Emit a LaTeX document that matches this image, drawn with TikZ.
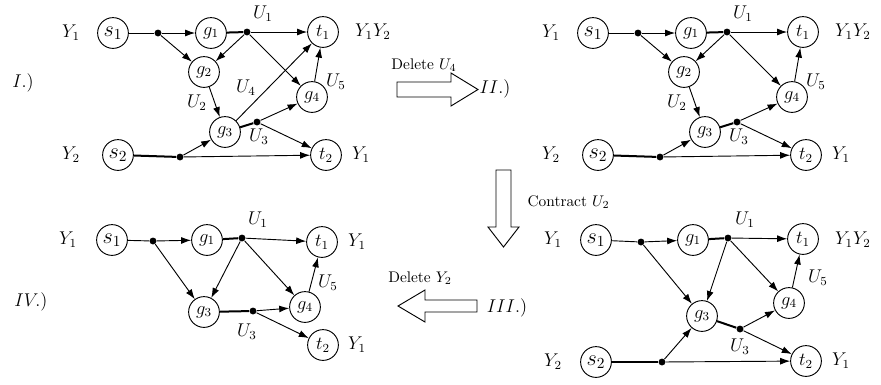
\documentclass[tikz,border=0pt]{standalone}
\usetikzlibrary{arrows.meta}
\begin{document}
\begin{tikzpicture}[x=0.65pt, y=-0.65pt, line width=0.6pt, font=\large, >={Latex[length=6.5pt,width=4.5pt]},
        main/.style = {draw, circle, minimum size=20pt, inner sep=0pt},
        dot/.style = {circle, fill, inner sep=0pt, minimum size=4.5pt},
        heavy/.style = {line width=1.3pt},
        step text/.style = {font=\normalsize},
        bigarrow/.style = {draw, fill=white, line width=0.6pt}]
    \useasboundingbox (0,0) rectangle (881,384);

    % I.)
    \node (num1) at (23,83) {$I.)$};
    \node[main] (s1a) at (113,33) {\Large $s_1$};
    \node[main] (g1a) at (211,33) {$g_1$};
    \node[main] (t1a) at (323,32) {$t_1$};
    \node[main] (g2a) at (204,72) {$g_2$};
    \node[main] (g4a) at (312,97) {$g_4$};
    \node[main] (g3a) at (225,132) {$g_3$};
    \node[main] (s2a) at (118,155) {\Large $s_2$};
    \node[main] (t2a) at (326,155) {$t_2$};
    \node[dot] (h1a) at (158,33) {};
    \node[dot] (u1a) at (247,32) {};
    \node[dot] (u3a) at (257,122) {};
    \node[dot] (h2a) at (180,157) {};
    \node (ys1a) at (71,33) {$Y_1$};
    \node (yt1a) at (373,32) {$Y_1Y_2$};
    \node (ys2a) at (71,155) {$Y_2$};
    \node (yt2a) at (361,155) {$Y_1$};
    \node (lu1a) at (263,14) {$U_1$};
    \node (lu2a) at (197,103) {$U_2$};
    \node (lu3a) at (259,137) {$U_3$};
    \node (lu4a) at (246,88) {$U_4$};
    \node (lu5a) at (336,82) {$U_5$};
    \draw (s1a) -- (h1a);
    \draw[->] (h1a) -- (g1a);
    \draw[->] (h1a) -- (g2a);
    \draw[heavy] (g1a) -- (u1a);
    \draw[->] (u1a) -- (t1a);
    \draw[->] (u1a) -- (g2a);
    \draw[->] (u1a) -- (g4a);
    \draw[->] (g2a) -- (g3a);
    \draw[->] (g3a) -- (t1a);
    \draw[heavy] (g3a) -- (u3a);
    \draw[->] (u3a) -- (g4a);
    \draw[->] (u3a) -- (t2a);
    \draw[->] (g4a) -- (t1a);
    \draw[heavy] (s2a) -- (h2a);
    \draw[->] (h2a) -- (g3a);
    \draw[->] (h2a) -- (t2a);

    % I.) -> II.)
    \draw[bigarrow] (397,82) -- (451,82) -- (451,73) -- (478,89.5) -- (451,106) -- (451,97) -- (397,97) -- cycle;
    \node[step text] (del1) at (424,65) {Delete $U_4$};

    % II.)
    \node (num2) at (495,89) {$II.)$};
    \node[main] (s1b) at (593,33) {\Large $s_1$};
    \node[main] (g1b) at (691,33) {$g_1$};
    \node[main] (t1b) at (803,32) {$t_1$};
    \node[main] (g2b) at (684,72) {$g_2$};
    \node[main] (g4b) at (792,97) {$g_4$};
    \node[main] (g3b) at (705,132) {$g_3$};
    \node[main] (s2b) at (598,155) {\Large $s_2$};
    \node[main] (t2b) at (806,155) {$t_2$};
    \node[dot] (h1b) at (638,33) {};
    \node[dot] (u1b) at (727,32) {};
    \node[dot] (u3b) at (737,122) {};
    \node[dot] (h2b) at (660,157) {};
    \node (ys1b) at (551,33) {$Y_1$};
    \node (yt1b) at (853,32) {$Y_1Y_2$};
    \node (ys2b) at (551,155) {$Y_2$};
    \node (yt2b) at (841,155) {$Y_1$};
    \node (lu1b) at (743,14) {$U_1$};
    \node (lu2b) at (677,103) {$U_2$};
    \node (lu3b) at (739,137) {$U_3$};
    \node (lu5b) at (816,82) {$U_5$};
    \draw (s1b) -- (h1b);
    \draw[->] (h1b) -- (g1b);
    \draw[->] (h1b) -- (g2b);
    \draw[heavy] (g1b) -- (u1b);
    \draw[->] (u1b) -- (t1b);
    \draw[->] (u1b) -- (g2b);
    \draw[->] (u1b) -- (g4b);
    \draw[->] (g2b) -- (g3b);
    \draw[heavy] (g3b) -- (u3b);
    \draw[->] (u3b) -- (g4b);
    \draw[->] (u3b) -- (t2b);
    \draw[->] (g4b) -- (t1b);
    \draw[heavy] (s2b) -- (h2b);
    \draw[->] (h2b) -- (g3b);
    \draw[->] (h2b) -- (t2b);

    % II.) -> III.)
    \draw[bigarrow] (496,170) -- (511,170) -- (511,227) -- (519,227) -- (503.5,247) -- (488,227) -- (496,227) -- cycle;
    \node[step text, anchor=west] (con) at (522,202) {Contract $U_2$};

    % III.)
    \node (num3) at (507,308) {$III.)$};
    \node[main] (s1c) at (596,240) {\Large $s_1$};
    \node[main] (g1c) at (693,240) {$g_1$};
    \node[main] (t1c) at (803,239) {$t_1$};
    \node[main] (g4c) at (789,303) {$g_4$};
    \node[main] (g3c) at (702,316) {$g_3$};
    \node[main] (s2c) at (596,362) {\Large $s_2$};
    \node[main] (t2c) at (806,361) {$t_2$};
    \node[dot] (h1c) at (641,242) {};
    \node[dot] (u1c) at (728,238) {};
    \node[dot] (u3c) at (740,329) {};
    \node[dot] (h2c) at (662,362) {};
    \node (ys1c) at (553,240) {$Y_1$};
    \node (yt1c) at (853,240) {$Y_1Y_2$};
    \node (ys2c) at (553,362) {$Y_2$};
    \node (yt2c) at (841,361) {$Y_1$};
    \node (lu1c) at (745,220) {$U_1$};
    \node (lu3c) at (740,347) {$U_3$};
    \node (lu5c) at (818,278) {$U_5$};
    \draw (s1c) -- (h1c);
    \draw[->] (h1c) -- (g1c);
    \draw[->] (h1c) -- (g3c);
    \draw[heavy] (g1c) -- (u1c);
    \draw[->] (u1c) -- (t1c);
    \draw[->] (u1c) -- (g3c);
    \draw[->] (u1c) -- (g4c);
    \draw[heavy] (g3c) -- (u3c);
    \draw[->] (u3c) -- (g4c);
    \draw[->] (u3c) -- (t2c);
    \draw[->] (g4c) -- (t1c);
    \draw[heavy] (s2c) -- (h2c);
    \draw[->] (h2c) -- (g3c);
    \draw[->] (h2c) -- (t2c);

    % III.) -> IV.)
    \draw[bigarrow] (477,300) -- (425,300) -- (425,290) -- (398,306) -- (425,322) -- (425,312) -- (477,312) -- cycle;
    \node[step text] (del2) at (420,278) {Delete $Y_2$};

    % IV.)
    \node (num4) at (31,302) {$IV.)$};
    \node[main] (s1d) at (112,240) {\Large $s_1$};
    \node[main] (g1d) at (207,240) {$g_1$};
    \node[main] (t1d) at (322,242) {$t_1$};
    \node[main] (g3d) at (204,312) {$g_3$};
    \node[main] (g4d) at (305,307) {$g_4$};
    \node[main] (t2d) at (323,345) {$t_2$};
    \node[dot] (h1d) at (153,241) {};
    \node[dot] (u1d) at (242,238) {};
    \node[dot] (u3d) at (253,311) {};
    \node (ys1d) at (68,240) {$Y_1$};
    \node (yt1d) at (357,242) {$Y_1$};
    \node (yt2d) at (357,345) {$Y_1$};
    \node (lu1d) at (258,220) {$U_1$};
    \node (lu3d) at (247,332) {$U_3$};
    \node (lu5d) at (328,283) {$U_5$};
    \draw (s1d) -- (h1d);
    \draw[->] (h1d) -- (g1d);
    \draw[->] (h1d) -- (g3d);
    \draw[heavy] (g1d) -- (u1d);
    \draw[->] (u1d) -- (t1d);
    \draw[->] (u1d) -- (g3d);
    \draw[->] (u1d) -- (g4d);
    \draw[heavy] (g3d) -- (u3d);
    \draw[->] (u3d) -- (g4d);
    \draw[->] (u3d) -- (t2d);
    \draw[->] (g4d) -- (t1d);
\end{tikzpicture}
\end{document}
